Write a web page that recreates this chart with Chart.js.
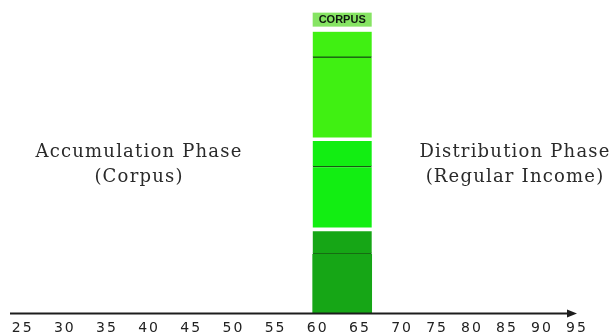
<!DOCTYPE html>
<html>
<head>
<meta charset="utf-8">
<script src="https://cdn.jsdelivr.net/npm/chart.js@4"></script>
<style>
  html, body { margin: 0; padding: 0; background: #ffffff; }
  canvas { display: block; }
</style>
</head>
<body>
<canvas id="timeline" width="611" height="332"></canvas>
<script>
// Ages marked along the timeline
const AGE_TICKS = [25, 30, 35, 40, 45, 50, 55, 60, 65, 70, 75, 80, 85, 90, 95];
// Ages covered by the corpus column
const CORPUS_SPAN = [59.4, 66.4];
// Corpus blocks, bottom to top, each as a main band and a thin upper band
const SEGMENT_NAMES = ['Block 1', 'Block 1 top', 'Block 2', 'Block 2 top', 'Block 3', 'Block 3 top'];
const SEGMENT_VALUES = [19.7, 7.7, 21.3, 8.7, 27.7, 8.7];
// Phase captions
const LEFT_PHASE = ['Accumulation Phase', '(Corpus)'];
const RIGHT_PHASE = ['Distribution Phase', '(Regular Income)'];
const CORPUS_TAG = 'CORPUS';

// The timeline is drawn tighter after this age
const LATE_AGE = 70;
const LATE_STEP = 0.83;

class AgeScale extends Chart.LinearScale {
  _warp(v) { return v <= LATE_AGE ? v : LATE_AGE + (v - LATE_AGE) * LATE_STEP; }
  _unwarp(u) { return u <= LATE_AGE ? u : LATE_AGE + (u - LATE_AGE) / LATE_STEP; }
  getPixelForValue(v) {
    if (v === null || v === undefined) return NaN;
    const a = this._warp(this.min), b = this._warp(this.max);
    return this.getPixelForDecimal((this._warp(v) - a) / (b - a));
  }
  getValueForPixel(p) {
    const a = this._warp(this.min), b = this._warp(this.max);
    return this._unwarp(a + this.getDecimalForPixel(p) * (b - a));
  }
}
AgeScale.id = 'age';
AgeScale.defaults = { ticks: { callback: (v) => String(v) } };
Chart.register(AgeScale);

const FILLS = ['#16a616', '#16a616', '#12ee12', '#12ee12', '#40f012', '#40f012'];
const corpusAge = (CORPUS_SPAN[0] + CORPUS_SPAN[1]) / 2;

const datasets = SEGMENT_VALUES.map((v, i) => ({
  label: SEGMENT_NAMES[i],
  data: [{ x: corpusAge, y: v }],
  backgroundColor: FILLS[i],
  borderColor: i % 2 ? '#175a12' : '#ffffff',
  borderWidth: i % 2 ? { bottom: 1.5 } : (i === 0 ? 0 : { bottom: 4 }),
  borderSkipped: false,
  barThickness: (ctx) => {
    const s = ctx.chart.scales.x;
    return s.getPixelForValue(CORPUS_SPAN[1]) - s.getPixelForValue(CORPUS_SPAN[0]);
  }
}));

const overlay = {
  id: 'overlay',
  beforeDraw(chart) {
    chart.ctx.letterSpacing = '2px';
  },
  afterDraw(chart) {
    const ctx = chart.ctx;
    const xs = chart.scales.x;
    const area = chart.chartArea;
    ctx.save();
    ctx.letterSpacing = '0px';

    // timeline with arrow head
    ctx.strokeStyle = '#1c1c1c';
    ctx.fillStyle = '#1c1c1c';
    ctx.lineWidth = 2;
    ctx.beginPath();
    ctx.moveTo(xs.left, area.bottom);
    ctx.lineTo(xs.right - 6, area.bottom);
    ctx.stroke();
    ctx.beginPath();
    ctx.moveTo(xs.right, area.bottom);
    ctx.lineTo(xs.right - 10, area.bottom - 4);
    ctx.lineTo(xs.right - 10, area.bottom + 4);
    ctx.closePath();
    ctx.fill();

    // tag above the corpus column
    const top = chart.getDatasetMeta(SEGMENT_VALUES.length - 1).data[0];
    const p = top.getProps(['x', 'y', 'width'], true);
    ctx.fillStyle = '#86e463';
    ctx.fillRect(p.x - p.width / 2, p.y - 19, p.width, 14);
    ctx.fillStyle = '#0f1a0f';
    ctx.font = 'bold 11px "Liberation Sans", Arial, sans-serif';
    ctx.textAlign = 'center';
    ctx.textBaseline = 'middle';
    ctx.fillText(CORPUS_TAG, p.x, p.y - 12);

    // phase captions
    ctx.fillStyle = '#2a2a2a';
    ctx.font = '18px "DejaVu Serif", serif';
    ctx.letterSpacing = '1.2px';
    ctx.textBaseline = 'alphabetic';
    const drawLines = (lines, cx) => {
      lines.forEach((t, i) => ctx.fillText(t, cx, 157 + i * 25));
    };
    drawLines(LEFT_PHASE, 139);
    drawLines(RIGHT_PHASE, 515);
    ctx.restore();
  }
};

new Chart(document.getElementById('timeline'), {
  type: 'bar',
  data: { datasets },
  plugins: [overlay],
  options: {
    responsive: false,
    devicePixelRatio: 1,
    animation: false,
    layout: { padding: { left: 10, right: 34, top: 13, bottom: -12 } },
    plugins: { legend: { display: false }, tooltip: { enabled: false } },
    scales: {
      x: {
        type: 'age',
        min: 23.5,
        max: 95,
        stacked: true,
        grid: { display: false, drawTicks: false },
        border: { display: false },
        afterBuildTicks: (s) => { s.ticks = AGE_TICKS.map((v) => ({ value: v })); },
        ticks: {
          autoSkip: false,
          maxRotation: 0,
          padding: 11,
          color: '#222222',
          font: { family: 'DejaVu Sans', size: 14, lineHeight: 0.6 },
          callback: (v) => String(v)
        }
      },
      y: { display: false, stacked: true, min: 0, max: 100 }
    }
  }
});
</script>
</body>
</html>
